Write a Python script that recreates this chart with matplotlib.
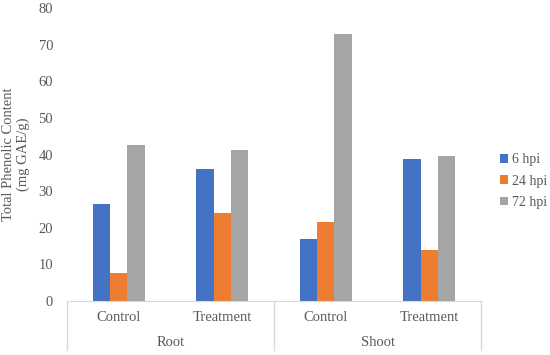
import numpy as np
import matplotlib
matplotlib.use("Agg")
import matplotlib.pyplot as plt
from matplotlib.transforms import blended_transform_factory

# data
groups = ["Root", "Shoot"]
conditions = ["Control", "Treatment", "Control", "Treatment"]
series = ["6 hpi", "24 hpi", "72 hpi"]
hpi_6 = [26.4, 36.1, 16.9, 38.9]
hpi_24 = [7.7, 24.0, 21.5, 13.9]
hpi_72 = [42.7, 41.1, 72.9, 39.5]
colors = ["#4472C4", "#ED7D31", "#A5A5A5"]

plt.rcParams["font.family"] = ["Liberation Serif", "DejaVu Serif"]
plt.rcParams["font.size"] = 10.5

fig = plt.figure(figsize=(5.5, 3.55), dpi=100)
ax = fig.add_axes([67 / 550, 1 - 301 / 355, 414 / 550, 293 / 355])

x = np.arange(len(conditions))
w = 0.167
for i, (vals, name) in enumerate(zip([hpi_6, hpi_24, hpi_72], series)):
    ax.bar(x + (i - 1) * w, vals, w, color=colors[i], label=name, zorder=2)

ax.set_xlim(-0.5, len(conditions) - 0.5)
ax.set_ylim(0, 80)
ax.set_yticks(range(0, 81, 10))
ax.set_xticks([])
ax.tick_params(axis="y", length=0, pad=10, colors="#595959")
for s in ["left", "right", "top"]:
    ax.spines[s].set_visible(False)
ax.spines["bottom"].set_color("#D9D9D9")

# two-level category axis
tr = blended_transform_factory(ax.transData, ax.transAxes)
for xi, lab in zip(x, conditions):
    ax.text(xi, -0.058, lab, transform=tr, ha="center", va="center", color="#595959")
for gi, g in enumerate(groups):
    ax.text(gi * 2 + 0.5, -0.143, g, transform=tr, ha="center", va="center", color="#595959")
for xs in [-0.5, 1.5, 3.5]:
    ax.plot([xs, xs], [0, -0.167], transform=tr, color="#D9D9D9", lw=1, clip_on=False)

ax.set_ylabel("Total Phenolic Content\n(mg GAE/g)", color="#595959", labelpad=6)

ax.legend(loc="center left", bbox_to_anchor=(0.909, 0.49), bbox_transform=fig.transFigure,
          frameon=False, handlelength=0.6, handleheight=0.6, handletextpad=0.3,
          labelspacing=0.6, labelcolor="#595959", borderpad=0, borderaxespad=0,
          fontsize=10)

fig.savefig("out.png", dpi=100)
